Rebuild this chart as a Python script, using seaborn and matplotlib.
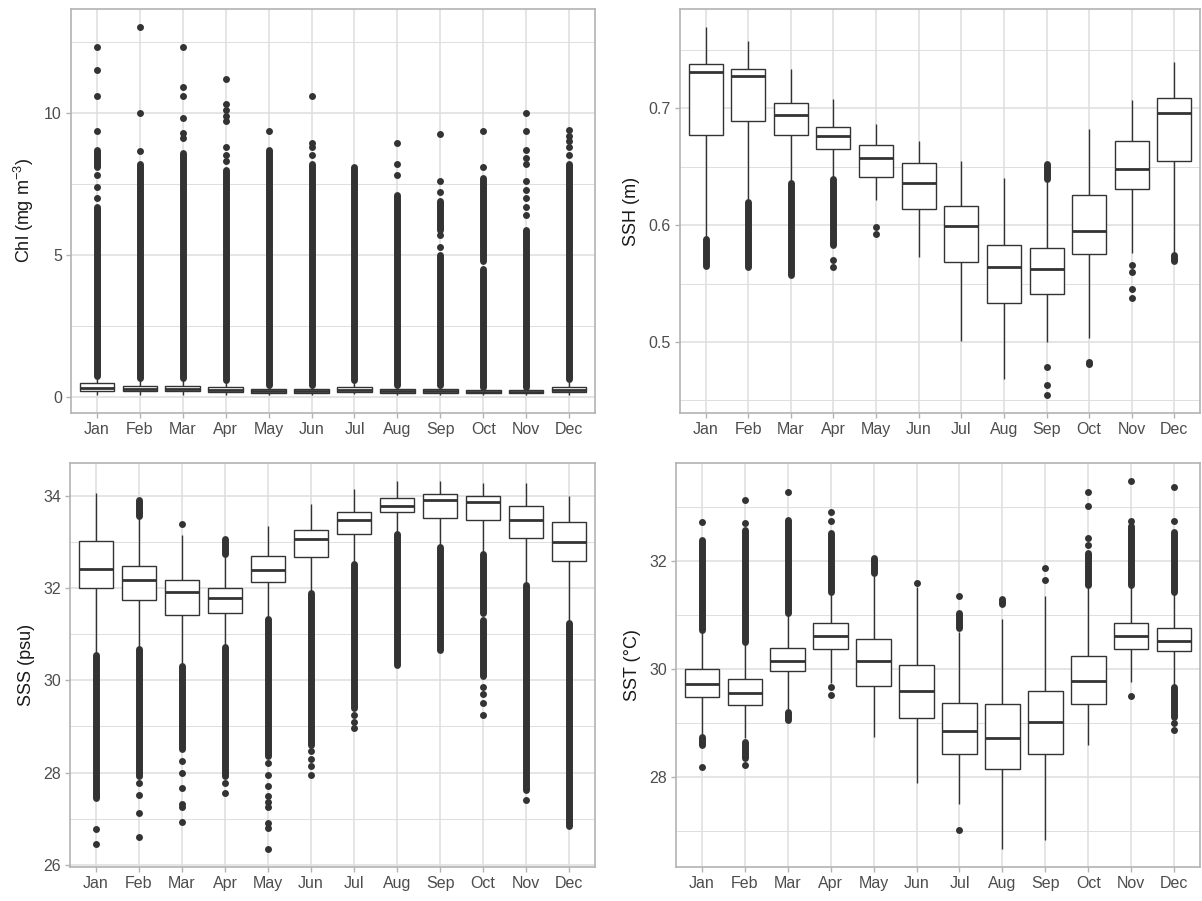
import numpy as np
import pandas as pd
import matplotlib
matplotlib.use("Agg")
import matplotlib.pyplot as plt
import seaborn as sns

MONTHS = ["Jan", "Feb", "Mar", "Apr", "May", "Jun",
          "Jul", "Aug", "Sep", "Oct", "Nov", "Dec"]

# ---- Chlorophyll (mg m^-3) -------------------------------------------------
chl_whislo = [0.10, 0.10, 0.10, 0.10, 0.10, 0.10, 0.12, 0.10, 0.10, 0.10, 0.10, 0.10]
chl_q1 = [0.22, 0.22, 0.22, 0.18, 0.16, 0.16, 0.20, 0.16, 0.16, 0.14, 0.14, 0.18]
chl_median = [0.35, 0.30, 0.30, 0.25, 0.22, 0.22, 0.28, 0.22, 0.22, 0.20, 0.20, 0.26]
chl_q3 = [0.50, 0.42, 0.42, 0.38, 0.30, 0.30, 0.38, 0.30, 0.30, 0.26, 0.26, 0.38]
chl_whishi = [0.72, 0.65, 0.65, 0.55, 0.42, 0.42, 0.55, 0.42, 0.42, 0.35, 0.35, 0.60]
chl_dense = [[(0.75, 6.7), (8.1, 8.7)], [(0.7, 8.2)], [(0.7, 8.6)], [(0.6, 8.0)],
             [(0.45, 8.7)], [(0.45, 8.2)], [(0.6, 8.1)], [(0.45, 7.1)],
             [(0.45, 5.0), (5.9, 6.9)], [(0.38, 4.5), (4.8, 7.7)], [(0.38, 5.9)],
             [(0.65, 8.2)]]
chl_points = [[7.0, 7.4, 7.8, 9.35, 10.6, 11.5, 12.3],
              [8.65, 10.0, 13.0],
              [9.1, 9.3, 9.8, 10.6, 10.9, 12.3],
              [8.3, 8.5, 8.8, 9.7, 9.9, 10.1, 10.3, 11.2],
              [9.35],
              [8.5, 8.8, 8.95, 10.6],
              [],
              [7.8, 8.2, 8.95],
              [5.3, 5.7, 7.2, 7.6, 9.25],
              [8.1, 9.35],
              [6.4, 6.7, 7.0, 7.3, 7.6, 8.2, 8.4, 8.7, 9.35, 10.0],
              [8.5, 8.8, 9.0, 9.2, 9.4]]

# ---- Sea surface height (m) ------------------------------------------------
ssh_whislo = [0.590, 0.622, 0.638, 0.641, 0.621, 0.573, 0.501, 0.468, 0.500, 0.503, 0.576, 0.577]
ssh_q1 = [0.677, 0.689, 0.677, 0.665, 0.641, 0.614, 0.568, 0.533, 0.541, 0.575, 0.631, 0.655]
ssh_median = [0.731, 0.727, 0.694, 0.676, 0.657, 0.636, 0.599, 0.564, 0.562, 0.595, 0.648, 0.696]
ssh_q3 = [0.738, 0.733, 0.704, 0.684, 0.668, 0.653, 0.616, 0.583, 0.580, 0.626, 0.672, 0.709]
ssh_whishi = [0.769, 0.757, 0.733, 0.708, 0.686, 0.672, 0.655, 0.640, 0.637, 0.682, 0.707, 0.739]
ssh_dense = [[(0.565, 0.588)], [(0.564, 0.620)], [(0.557, 0.636)], [(0.583, 0.639)],
             [], [], [], [], [(0.639, 0.652)], [], [], [(0.569, 0.574)]]
ssh_points = [[], [], [], [0.570, 0.564], [0.598, 0.592], [], [], [],
              [0.479, 0.463, 0.455], [0.483, 0.481], [0.566, 0.560, 0.545, 0.538], []]

# ---- Sea surface salinity (psu) --------------------------------------------
sss_whislo = [30.55, 30.67, 30.30, 30.73, 31.32, 31.88, 32.52, 33.17, 32.88, 32.74, 32.06, 31.23]
sss_q1 = [32.00, 31.73, 31.41, 31.45, 32.13, 32.68, 33.17, 33.64, 33.52, 33.47, 33.09, 32.58]
sss_median = [32.40, 32.18, 31.91, 31.79, 32.38, 33.06, 33.47, 33.78, 33.91, 33.86, 33.47, 33.00]
sss_q3 = [33.01, 32.47, 32.18, 32.00, 32.70, 33.26, 33.64, 33.96, 34.04, 34.00, 33.78, 33.44]
sss_whishi = [34.05, 33.55, 33.15, 32.70, 33.35, 33.83, 34.14, 34.31, 34.31, 34.27, 34.27, 34.00]
sss_dense = [[(27.45, 30.55)], [(27.92, 30.67), (33.57, 33.90)], [(28.50, 30.30)],
             [(27.92, 30.73), (32.74, 33.06)], [(28.35, 31.32)], [(28.60, 31.88)],
             [(29.40, 32.52)], [(30.33, 33.17)], [(30.65, 32.88)],
             [(31.45, 32.74), (30.10, 31.30)], [(27.63, 32.06)], [(26.84, 31.23)]]
sss_points = [[26.77, 26.46],
              [27.78, 27.51, 27.13, 26.60],
              [33.38, 28.24, 27.99, 27.67, 27.31, 27.25, 26.93],
              [27.78, 27.56],
              [28.20, 27.95, 27.70, 27.50, 27.35, 27.25, 26.90, 26.80, 26.35],
              [28.46, 28.30, 28.14, 27.94],
              [29.25, 29.10, 28.96],
              [], [],
              [29.85, 29.70, 29.50, 29.25],
              [27.40],
              []]

# ---- Sea surface temperature (deg C) ---------------------------------------
sst_whislo = [28.77, 28.71, 29.24, 29.73, 28.74, 27.88, 27.50, 26.67, 26.83, 28.58, 29.76, 29.70]
sst_q1 = [29.47, 29.33, 29.95, 30.37, 29.69, 29.09, 28.43, 28.14, 28.43, 29.34, 30.36, 30.33]
sst_median = [29.72, 29.55, 30.15, 30.60, 30.15, 29.59, 28.85, 28.71, 29.02, 29.78, 30.60, 30.52]
sst_q3 = [29.99, 29.81, 30.39, 30.84, 30.55, 30.07, 29.36, 29.34, 29.59, 30.24, 30.84, 30.76]
sst_whishi = [30.69, 30.50, 31.03, 31.43, 31.71, 31.52, 30.69, 30.92, 31.34, 31.55, 31.55, 31.40]
sst_dense = [[(30.72, 32.39), (28.59, 28.74)], [(30.50, 32.57), (28.34, 28.65)],
             [(31.03, 32.76), (29.06, 29.20)], [(31.43, 32.51)], [(31.77, 32.05)], [],
             [(30.75, 31.03)], [(31.20, 31.29)], [], [(31.55, 32.14)], [(31.55, 32.64)],
             [(31.43, 32.54), (29.11, 29.67)]]
sst_points = [[32.71, 28.19],
              [33.13, 32.69, 28.22],
              [33.27],
              [32.91, 32.74, 29.67, 29.51],
              [],
              [31.59],
              [31.34, 27.01],
              [],
              [31.86, 31.64],
              [33.27, 33.01, 32.42, 32.30],
              [33.47, 32.74, 29.50],
              [33.36, 32.74, 28.99, 28.87]]

# ---- styling ---------------------------------------------------------------
INK = "#333333"
BORDER = "#B3B3B3"
GRID = "#DEDEDE"
TICKTEXT = "#4D4D4D"
POINT_PT = 5.0

sns.set_style("whitegrid", rc={
    "axes.edgecolor": BORDER,
    "axes.linewidth": 1.2,
    "grid.color": GRID,
    "xtick.bottom": True,
    "ytick.left": True,
})
plt.rcParams["font.family"] = ["Liberation Sans", "DejaVu Sans"]
plt.rcParams["mathtext.fontset"] = "custom"
plt.rcParams["mathtext.rm"] = "Liberation Sans"
plt.rcParams["mathtext.default"] = "regular"


def draw_panel(ax, ylabel, whislo, q1, med, q3, whishi, dense, points,
               ticks, ticklabels, minor):
    # five-number summaries -> one small sample per month
    box_df = pd.DataFrame({
        "month": np.repeat(MONTHS, 5),
        "value": np.column_stack([whislo, q1, med, q3, whishi]).ravel(),
    })
    pt_df = pd.DataFrame({
        "month": [m for m, vals in zip(MONTHS, points) for _ in vals],
        "value": [v for vals in points for v in vals],
    })

    # outliers: dense runs as thick round-capped strokes, isolated ones as dots
    xs, lo, hi = [], [], []
    for i, runs in enumerate(dense):
        for a, b in runs:
            xs.append(i)
            lo.append(a)
            hi.append(b)
    if xs:
        lc = ax.vlines(xs, lo, hi, colors=INK, linewidth=POINT_PT, zorder=1.5)
        lc.set_capstyle("round")
    if len(pt_df):
        sns.stripplot(data=pt_df, x="month", y="value", order=MONTHS, jitter=False,
                      color=INK, size=POINT_PT, linewidth=0, ax=ax, zorder=1.6)

    sns.boxplot(data=box_df, x="month", y="value", order=MONTHS, whis=(0, 100),
                width=0.8, color="white", linecolor=INK, linewidth=1.0,
                showfliers=False, showcaps=False, medianprops={"linewidth": 2.0},
                ax=ax, zorder=2)

    allvals = list(whislo) + list(whishi) + [v for r in dense for p in r for v in p] \
        + [v for vals in points for v in vals]
    vmin, vmax = min(allvals), max(allvals)
    pad = 0.05 * (vmax - vmin)
    ax.set_ylim(vmin - pad, vmax + pad)
    ax.set_xlim(-0.6, len(MONTHS) - 0.4)

    ax.set_yticks(ticks)
    ax.set_yticklabels(ticklabels)
    ax.set_yticks(minor, minor=True)
    ax.grid(True, which="major", color=GRID, linewidth=1.1)
    ax.grid(True, which="minor", axis="y", color=GRID, linewidth=0.7)
    ax.set_axisbelow(True)

    ax.set_xlabel("")
    ax.set_ylabel(ylabel, fontsize=13, color="#1A1A1A", labelpad=6)
    ax.tick_params(axis="both", which="major", labelsize=11.5, labelcolor=TICKTEXT,
                   color=BORDER, length=3.5, width=1.0, pad=3)
    ax.tick_params(axis="y", which="minor", length=0)
    for sp in ax.spines.values():
        sp.set_color(BORDER)
        sp.set_linewidth(1.2)


fig = plt.figure(figsize=(12.02, 9.01), dpi=100)
W, H = 1202, 901


def panel(left, right, top, bottom):
    return fig.add_axes([left / W, (H - bottom) / H, (right - left) / W, (bottom - top) / H])


ax1 = panel(71, 595, 9, 413)
ax2 = panel(680, 1200, 9, 413)
ax3 = panel(70, 595, 463, 867)
ax4 = panel(676, 1200, 463, 867)

draw_panel(ax1, "Chl (mg m$^{-3}$)", chl_whislo, chl_q1, chl_median, chl_q3, chl_whishi,
           chl_dense, chl_points, [0, 5, 10], ["0", "5", "10"], [2.5, 7.5, 12.5])
draw_panel(ax2, "SSH (m)", ssh_whislo, ssh_q1, ssh_median, ssh_q3, ssh_whishi,
           ssh_dense, ssh_points, [0.5, 0.6, 0.7], ["0.5", "0.6", "0.7"],
           [0.45, 0.55, 0.65, 0.75])
draw_panel(ax3, "SSS (psu)", sss_whislo, sss_q1, sss_median, sss_q3, sss_whishi,
           sss_dense, sss_points, [26, 28, 30, 32, 34], ["26", "28", "30", "32", "34"],
           [27, 29, 31, 33])
draw_panel(ax4, "SST (°C)", sst_whislo, sst_q1, sst_median, sst_q3, sst_whishi,
           sst_dense, sst_points, [28, 30, 32], ["28", "30", "32"], [27, 29, 31, 33])

fig.savefig("out.png", dpi=100)
